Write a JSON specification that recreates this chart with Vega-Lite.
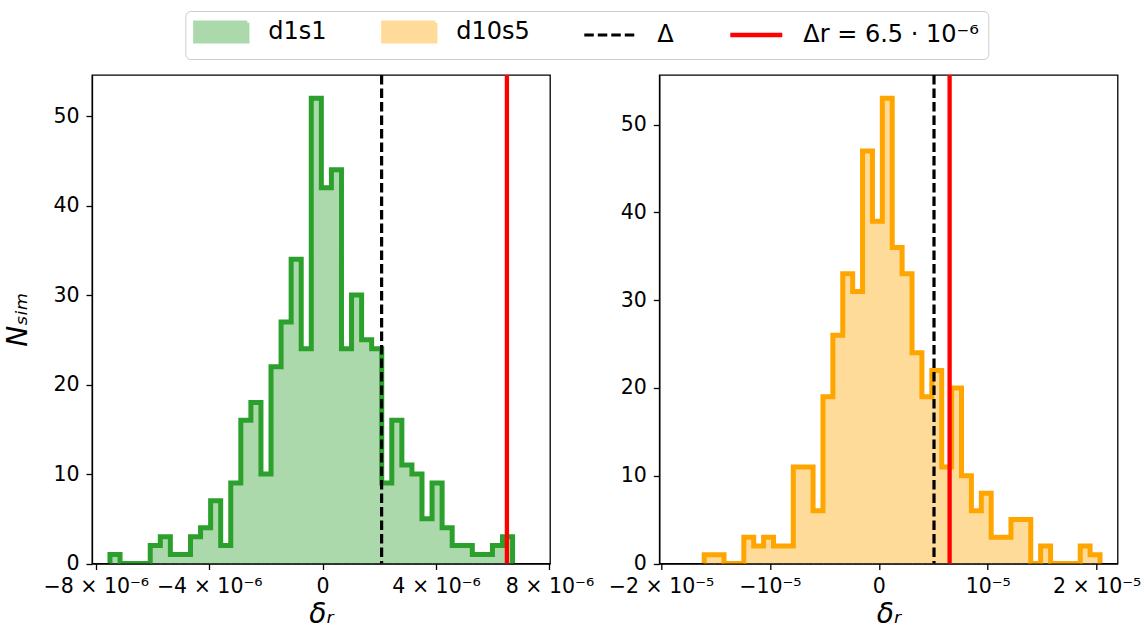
{
  "$schema": "https://vega.github.io/schema/vega-lite/v6.json",
  "padding": {"left": 4, "top": 10, "right": 10, "bottom": 5},
  "spacing": 109.3,
  "bounds": "flush",
  "config": {
    "font": "DejaVu Sans",
    "view": {"stroke": "black", "strokeWidth": 1.3},
    "axis": {"grid": false, "labelFontSize": 20.5, "labelColor": "black", "labelFont": "DejaVu Sans", "tickColor": "black", "tickSize": 6, "tickWidth": 1.3, "domainColor": "black", "domainWidth": 1.3, "titleFontSize": 28, "titleFontWeight": "normal", "titleColor": "black", "titleFont": "DejaVu Sans", "titleFontStyle": "italic", "labelOverlap": false, "labelFlush": false, "zindex": 1}
  },
  "datasets": {
    "bins": [
      {"series":"d1s1","s":-7.5e-6,"e":-7.145e-6,"n":1},
      {"series":"d1s1","s":-7.145e-6,"e":-6.79e-6,"n":0},
      {"series":"d1s1","s":-6.79e-6,"e":-6.435e-6,"n":0},
      {"series":"d1s1","s":-6.435e-6,"e":-6.08e-6,"n":0},
      {"series":"d1s1","s":-6.08e-6,"e":-5.725e-6,"n":2},
      {"series":"d1s1","s":-5.725e-6,"e":-5.37e-6,"n":3},
      {"series":"d1s1","s":-5.37e-6,"e":-5.015e-6,"n":1},
      {"series":"d1s1","s":-5.015e-6,"e":-4.66e-6,"n":1},
      {"series":"d1s1","s":-4.66e-6,"e":-4.305e-6,"n":3},
      {"series":"d1s1","s":-4.305e-6,"e":-3.95e-6,"n":4},
      {"series":"d1s1","s":-3.95e-6,"e":-3.595e-6,"n":7},
      {"series":"d1s1","s":-3.595e-6,"e":-3.24e-6,"n":2},
      {"series":"d1s1","s":-3.24e-6,"e":-2.885e-6,"n":9},
      {"series":"d1s1","s":-2.885e-6,"e":-2.53e-6,"n":16},
      {"series":"d1s1","s":-2.53e-6,"e":-2.175e-6,"n":18},
      {"series":"d1s1","s":-2.175e-6,"e":-1.82e-6,"n":10},
      {"series":"d1s1","s":-1.82e-6,"e":-1.465e-6,"n":22},
      {"series":"d1s1","s":-1.465e-6,"e":-1.11e-6,"n":27},
      {"series":"d1s1","s":-1.11e-6,"e":-0.755e-6,"n":34},
      {"series":"d1s1","s":-0.755e-6,"e":-0.4e-6,"n":24},
      {"series":"d1s1","s":-0.4e-6,"e":-0.045e-6,"n":52},
      {"series":"d1s1","s":-0.045e-6,"e":0.31e-6,"n":42},
      {"series":"d1s1","s":0.31e-6,"e":0.665e-6,"n":44},
      {"series":"d1s1","s":0.665e-6,"e":1.02e-6,"n":24},
      {"series":"d1s1","s":1.02e-6,"e":1.375e-6,"n":30},
      {"series":"d1s1","s":1.375e-6,"e":1.73e-6,"n":25},
      {"series":"d1s1","s":1.73e-6,"e":2.085e-6,"n":24},
      {"series":"d1s1","s":2.085e-6,"e":2.44e-6,"n":9},
      {"series":"d1s1","s":2.44e-6,"e":2.795e-6,"n":16},
      {"series":"d1s1","s":2.795e-6,"e":3.15e-6,"n":11},
      {"series":"d1s1","s":3.15e-6,"e":3.505e-6,"n":10},
      {"series":"d1s1","s":3.505e-6,"e":3.86e-6,"n":5},
      {"series":"d1s1","s":3.86e-6,"e":4.215e-6,"n":9},
      {"series":"d1s1","s":4.215e-6,"e":4.57e-6,"n":4},
      {"series":"d1s1","s":4.57e-6,"e":4.925e-6,"n":2},
      {"series":"d1s1","s":4.925e-6,"e":5.28e-6,"n":2},
      {"series":"d1s1","s":5.28e-6,"e":5.635e-6,"n":1},
      {"series":"d1s1","s":5.635e-6,"e":5.99e-6,"n":1},
      {"series":"d1s1","s":5.99e-6,"e":6.345e-6,"n":2},
      {"series":"d1s1","s":6.345e-6,"e":6.7e-6,"n":3},
      {"series":"d10s5","s":-1.603e-5,"e":-1.51215e-5,"n":1},
      {"series":"d10s5","s":-1.51215e-5,"e":-1.4213e-5,"n":1},
      {"series":"d10s5","s":-1.4213e-5,"e":-1.33045e-5,"n":0},
      {"series":"d10s5","s":-1.33045e-5,"e":-1.2396e-5,"n":0},
      {"series":"d10s5","s":-1.2396e-5,"e":-1.14875e-5,"n":3},
      {"series":"d10s5","s":-1.14875e-5,"e":-1.0579e-5,"n":2},
      {"series":"d10s5","s":-1.0579e-5,"e":-0.96705e-5,"n":3},
      {"series":"d10s5","s":-0.96705e-5,"e":-0.8762e-5,"n":2},
      {"series":"d10s5","s":-0.8762e-5,"e":-0.78535e-5,"n":2},
      {"series":"d10s5","s":-0.78535e-5,"e":-0.6945e-5,"n":11},
      {"series":"d10s5","s":-0.6945e-5,"e":-0.60365e-5,"n":11},
      {"series":"d10s5","s":-0.60365e-5,"e":-0.5128e-5,"n":6},
      {"series":"d10s5","s":-0.5128e-5,"e":-0.42195e-5,"n":19},
      {"series":"d10s5","s":-0.42195e-5,"e":-0.3311e-5,"n":26},
      {"series":"d10s5","s":-0.3311e-5,"e":-0.24025e-5,"n":33},
      {"series":"d10s5","s":-0.24025e-5,"e":-0.1494e-5,"n":31},
      {"series":"d10s5","s":-0.1494e-5,"e":-0.05855e-5,"n":47},
      {"series":"d10s5","s":-0.05855e-5,"e":0.0323e-5,"n":39},
      {"series":"d10s5","s":0.0323e-5,"e":0.12315e-5,"n":53},
      {"series":"d10s5","s":0.12315e-5,"e":0.214e-5,"n":36},
      {"series":"d10s5","s":0.214e-5,"e":0.30485e-5,"n":33},
      {"series":"d10s5","s":0.30485e-5,"e":0.3957e-5,"n":24},
      {"series":"d10s5","s":0.3957e-5,"e":0.48655e-5,"n":19},
      {"series":"d10s5","s":0.48655e-5,"e":0.5774e-5,"n":22},
      {"series":"d10s5","s":0.5774e-5,"e":0.66825e-5,"n":11},
      {"series":"d10s5","s":0.66825e-5,"e":0.7591e-5,"n":20},
      {"series":"d10s5","s":0.7591e-5,"e":0.84995e-5,"n":10},
      {"series":"d10s5","s":0.84995e-5,"e":0.9408e-5,"n":6},
      {"series":"d10s5","s":0.9408e-5,"e":1.03165e-5,"n":8},
      {"series":"d10s5","s":1.03165e-5,"e":1.1225e-5,"n":3},
      {"series":"d10s5","s":1.1225e-5,"e":1.21335e-5,"n":3},
      {"series":"d10s5","s":1.21335e-5,"e":1.3042e-5,"n":5},
      {"series":"d10s5","s":1.3042e-5,"e":1.39505e-5,"n":5},
      {"series":"d10s5","s":1.39505e-5,"e":1.4859e-5,"n":0},
      {"series":"d10s5","s":1.4859e-5,"e":1.57675e-5,"n":2},
      {"series":"d10s5","s":1.57675e-5,"e":1.6676e-5,"n":0},
      {"series":"d10s5","s":1.6676e-5,"e":1.75845e-5,"n":0},
      {"series":"d10s5","s":1.75845e-5,"e":1.8493e-5,"n":0},
      {"series":"d10s5","s":1.8493e-5,"e":1.94015e-5,"n":2},
      {"series":"d10s5","s":1.94015e-5,"e":2.031e-5,"n":1}
    ],
    "outline": [
      {"series":"d1s1","i":0,"x":-7.5e-6,"y":0},
      {"series":"d1s1","i":1,"x":-7.5e-6,"y":1},
      {"series":"d1s1","i":2,"x":-7.145e-6,"y":0},
      {"series":"d1s1","i":3,"x":-6.79e-6,"y":0},
      {"series":"d1s1","i":4,"x":-6.435e-6,"y":0},
      {"series":"d1s1","i":5,"x":-6.08e-6,"y":2},
      {"series":"d1s1","i":6,"x":-5.725e-6,"y":3},
      {"series":"d1s1","i":7,"x":-5.37e-6,"y":1},
      {"series":"d1s1","i":8,"x":-5.015e-6,"y":1},
      {"series":"d1s1","i":9,"x":-4.66e-6,"y":3},
      {"series":"d1s1","i":10,"x":-4.305e-6,"y":4},
      {"series":"d1s1","i":11,"x":-3.95e-6,"y":7},
      {"series":"d1s1","i":12,"x":-3.595e-6,"y":2},
      {"series":"d1s1","i":13,"x":-3.24e-6,"y":9},
      {"series":"d1s1","i":14,"x":-2.885e-6,"y":16},
      {"series":"d1s1","i":15,"x":-2.53e-6,"y":18},
      {"series":"d1s1","i":16,"x":-2.175e-6,"y":10},
      {"series":"d1s1","i":17,"x":-1.82e-6,"y":22},
      {"series":"d1s1","i":18,"x":-1.465e-6,"y":27},
      {"series":"d1s1","i":19,"x":-1.11e-6,"y":34},
      {"series":"d1s1","i":20,"x":-0.755e-6,"y":24},
      {"series":"d1s1","i":21,"x":-0.4e-6,"y":52},
      {"series":"d1s1","i":22,"x":-0.045e-6,"y":42},
      {"series":"d1s1","i":23,"x":0.31e-6,"y":44},
      {"series":"d1s1","i":24,"x":0.665e-6,"y":24},
      {"series":"d1s1","i":25,"x":1.02e-6,"y":30},
      {"series":"d1s1","i":26,"x":1.375e-6,"y":25},
      {"series":"d1s1","i":27,"x":1.73e-6,"y":24},
      {"series":"d1s1","i":28,"x":2.085e-6,"y":9},
      {"series":"d1s1","i":29,"x":2.44e-6,"y":16},
      {"series":"d1s1","i":30,"x":2.795e-6,"y":11},
      {"series":"d1s1","i":31,"x":3.15e-6,"y":10},
      {"series":"d1s1","i":32,"x":3.505e-6,"y":5},
      {"series":"d1s1","i":33,"x":3.86e-6,"y":9},
      {"series":"d1s1","i":34,"x":4.215e-6,"y":4},
      {"series":"d1s1","i":35,"x":4.57e-6,"y":2},
      {"series":"d1s1","i":36,"x":4.925e-6,"y":2},
      {"series":"d1s1","i":37,"x":5.28e-6,"y":1},
      {"series":"d1s1","i":38,"x":5.635e-6,"y":1},
      {"series":"d1s1","i":39,"x":5.99e-6,"y":2},
      {"series":"d1s1","i":40,"x":6.345e-6,"y":3},
      {"series":"d1s1","i":41,"x":6.7e-6,"y":3},
      {"series":"d1s1","i":42,"x":6.7e-6,"y":0},
      {"series":"d10s5","i":0,"x":-1.603e-5,"y":0},
      {"series":"d10s5","i":1,"x":-1.603e-5,"y":1},
      {"series":"d10s5","i":2,"x":-1.51215e-5,"y":1},
      {"series":"d10s5","i":3,"x":-1.4213e-5,"y":0},
      {"series":"d10s5","i":4,"x":-1.33045e-5,"y":0},
      {"series":"d10s5","i":5,"x":-1.2396e-5,"y":3},
      {"series":"d10s5","i":6,"x":-1.14875e-5,"y":2},
      {"series":"d10s5","i":7,"x":-1.0579e-5,"y":3},
      {"series":"d10s5","i":8,"x":-0.96705e-5,"y":2},
      {"series":"d10s5","i":9,"x":-0.8762e-5,"y":2},
      {"series":"d10s5","i":10,"x":-0.78535e-5,"y":11},
      {"series":"d10s5","i":11,"x":-0.6945e-5,"y":11},
      {"series":"d10s5","i":12,"x":-0.60365e-5,"y":6},
      {"series":"d10s5","i":13,"x":-0.5128e-5,"y":19},
      {"series":"d10s5","i":14,"x":-0.42195e-5,"y":26},
      {"series":"d10s5","i":15,"x":-0.3311e-5,"y":33},
      {"series":"d10s5","i":16,"x":-0.24025e-5,"y":31},
      {"series":"d10s5","i":17,"x":-0.1494e-5,"y":47},
      {"series":"d10s5","i":18,"x":-0.05855e-5,"y":39},
      {"series":"d10s5","i":19,"x":0.0323e-5,"y":53},
      {"series":"d10s5","i":20,"x":0.12315e-5,"y":36},
      {"series":"d10s5","i":21,"x":0.214e-5,"y":33},
      {"series":"d10s5","i":22,"x":0.30485e-5,"y":24},
      {"series":"d10s5","i":23,"x":0.3957e-5,"y":19},
      {"series":"d10s5","i":24,"x":0.48655e-5,"y":22},
      {"series":"d10s5","i":25,"x":0.5774e-5,"y":11},
      {"series":"d10s5","i":26,"x":0.66825e-5,"y":20},
      {"series":"d10s5","i":27,"x":0.7591e-5,"y":10},
      {"series":"d10s5","i":28,"x":0.84995e-5,"y":6},
      {"series":"d10s5","i":29,"x":0.9408e-5,"y":8},
      {"series":"d10s5","i":30,"x":1.03165e-5,"y":3},
      {"series":"d10s5","i":31,"x":1.1225e-5,"y":3},
      {"series":"d10s5","i":32,"x":1.21335e-5,"y":5},
      {"series":"d10s5","i":33,"x":1.3042e-5,"y":5},
      {"series":"d10s5","i":34,"x":1.39505e-5,"y":0},
      {"series":"d10s5","i":35,"x":1.4859e-5,"y":2},
      {"series":"d10s5","i":36,"x":1.57675e-5,"y":0},
      {"series":"d10s5","i":37,"x":1.6676e-5,"y":0},
      {"series":"d10s5","i":38,"x":1.75845e-5,"y":0},
      {"series":"d10s5","i":39,"x":1.8493e-5,"y":2},
      {"series":"d10s5","i":40,"x":1.94015e-5,"y":1},
      {"series":"d10s5","i":41,"x":2.031e-5,"y":1},
      {"series":"d10s5","i":42,"x":2.031e-5,"y":0}
    ],
    "vlines": [
      {"panel":"L","series":"Δ","x":2.081e-6},
      {"panel":"L","series":"Δr = 6.5 · 10⁻⁶","x":6.5e-6},
      {"panel":"R","series":"Δ","x":5.067e-6},
      {"panel":"R","series":"Δr = 6.5 · 10⁻⁶","x":6.5e-6}
    ]
  },
  "hconcat": [
    {
      "width": 458,
      "height": 488.5,
      "layer": [
        {
          "data": {"name": "bins"},
          "transform": [{"filter": "datum.series === 'd1s1'"}],
          "mark": {"type": "rect", "strokeWidth": 0, "x2Offset": 0.7, "clip": true},
          "encoding": {
            "x": {"field": "s", "type": "quantitative", "scale": {"domain": [-8.134e-6, 8.02e-6], "nice": false, "zero": false},
                  "axis": {"values": [-8e-6, -4e-6, 0, 4e-6, 8e-6], "labelExpr": "datum.value == 0 ? '0' : (datum.value < 0 ? '−' : '') + abs(round(datum.value * 1e6)) + ' × 10⁻⁶'", "labelPadding": 7, "titlePadding": 3}, "title": "δᵣ"},
            "x2": {"field": "e"},
            "y": {"field": "n", "type": "quantitative", "scale": {"domain": [0, 54.6], "nice": false},
                  "axis": {"values": [0, 10, 20, 30, 40, 50], "labelPadding": 7, "titlePadding": 20}, "title": "Nₛᵢₘ"},
            "y2": {"datum": 0},
            "color": {"field": "series", "type": "nominal",
              "scale": {"domain": ["d1s1", "d10s5", "Δ", "Δr = 6.5 · 10⁻⁶"], "range": ["#abd9ab", "#ffdb99", "black", "red"]},
              "legend": {
                "orient": "none", "legendX": 93.3, "legendY": -64, "direction": "horizontal", "title": null,
                "labelFontSize": 24, "labelFont": "DejaVu Sans", "labelColor": "black", "labelLimit": 500,
                "columnPadding": 47, "symbolSize": 2704, "padding": 9, "strokeColor": "#cccccc", "fillColor": "white", "cornerRadius": 5,
                "encode": {
                  "symbols": {"update": {
                    "x": {"value": 27},
                    "shape": {"signal": "(datum.value === 'd1s1' || datum.value === 'd10s5') ? 'M-1,-0.36H1V0.36H-1Z' : 'stroke'"},
                    "size": {"value": 2704},
                    "fill": {"signal": "datum.value === 'd1s1' ? '#abd9ab' : datum.value === 'd10s5' ? '#ffdb99' : 'transparent'"},
                    "stroke": {"signal": "datum.value === 'Δ' ? 'black' : (datum.value === 'd1s1' || datum.value === 'd10s5') ? 'transparent' : 'red'"},
                    "strokeWidth": {"signal": "datum.value === 'Δ' ? 3.2 : 4.3"},
                    "strokeDash": {"signal": "datum.value === 'Δ' ? [9.5, 4] : [1, 0]"},
                    "opacity": {"value": 1},
                    "fillOpacity": {"value": 1},
                    "strokeOpacity": {"value": 1}
                  }},
                  "labels": {"update": {"x": {"value": 74}}}
                }
              }
            }
          }
        },
        {
          "data": {"name": "outline"},
          "transform": [{"filter": "datum.series === 'd1s1'"}],
          "mark": {"type": "line", "interpolate": "step-after", "color": "#2ca02c", "strokeWidth": 5, "strokeJoin": "miter", "clip": true},
          "encoding": {"x": {"field": "x", "type": "quantitative"}, "y": {"field": "y", "type": "quantitative"}, "order": {"field": "i", "type": "quantitative"}}
        },
        {
          "data": {"name": "vlines"},
          "transform": [{"filter": "datum.panel === 'L' && datum.series === 'Δ'"}],
          "mark": {"type": "rule", "strokeDash": [9.5, 4], "strokeWidth": 3.2},
          "encoding": {"x": {"field": "x", "type": "quantitative"}, "color": {"field": "series", "type": "nominal"}}
        },
        {
          "data": {"name": "vlines"},
          "transform": [{"filter": "datum.panel === 'L' && datum.series !== 'Δ'"}],
          "mark": {"type": "rule", "strokeWidth": 4.3},
          "encoding": {"x": {"field": "x", "type": "quantitative"}, "color": {"field": "series", "type": "nominal"}}
        }
      ]
    },
    {
      "width": 458.3,
      "height": 488.5,
      "layer": [
        {
          "data": {"name": "bins"},
          "transform": [{"filter": "datum.series === 'd10s5'"}],
          "mark": {"type": "rect", "strokeWidth": 0, "x2Offset": 0.7, "clip": true},
          "encoding": {
            "x": {"field": "s", "type": "quantitative", "scale": {"domain": [-2.0156e-5, 2.1924e-5], "nice": false, "zero": false},
                  "axis": {"values": [-2e-5, -1e-5, 0, 1e-5, 2e-5], "labelExpr": "datum.value == 0 ? '0' : (datum.value < 0 ? '−' : '') + (abs(round(datum.value * 1e5)) == 1 ? '' : abs(round(datum.value * 1e5)) + ' × ') + '10⁻⁵'", "labelPadding": 7, "titlePadding": 3}, "title": "δᵣ"},
            "x2": {"field": "e"},
            "y": {"field": "n", "type": "quantitative", "scale": {"domain": [0, 55.65], "nice": false},
                  "axis": {"values": [0, 10, 20, 30, 40, 50], "labelPadding": 7}, "title": null},
            "y2": {"datum": 0},
            "color": {"field": "series", "type": "nominal"}
          }
        },
        {
          "data": {"name": "outline"},
          "transform": [{"filter": "datum.series === 'd10s5'"}],
          "mark": {"type": "line", "interpolate": "step-after", "color": "#ffa500", "strokeWidth": 5, "strokeJoin": "miter", "clip": true},
          "encoding": {"x": {"field": "x", "type": "quantitative"}, "y": {"field": "y", "type": "quantitative"}, "order": {"field": "i", "type": "quantitative"}}
        },
        {
          "data": {"name": "vlines"},
          "transform": [{"filter": "datum.panel === 'R' && datum.series === 'Δ'"}],
          "mark": {"type": "rule", "strokeDash": [9.5, 4], "strokeWidth": 3.2},
          "encoding": {"x": {"field": "x", "type": "quantitative"}, "color": {"field": "series", "type": "nominal"}}
        },
        {
          "data": {"name": "vlines"},
          "transform": [{"filter": "datum.panel === 'R' && datum.series !== 'Δ'"}],
          "mark": {"type": "rule", "strokeWidth": 4.3},
          "encoding": {"x": {"field": "x", "type": "quantitative"}, "color": {"field": "series", "type": "nominal"}}
        }
      ]
    }
  ]
}
